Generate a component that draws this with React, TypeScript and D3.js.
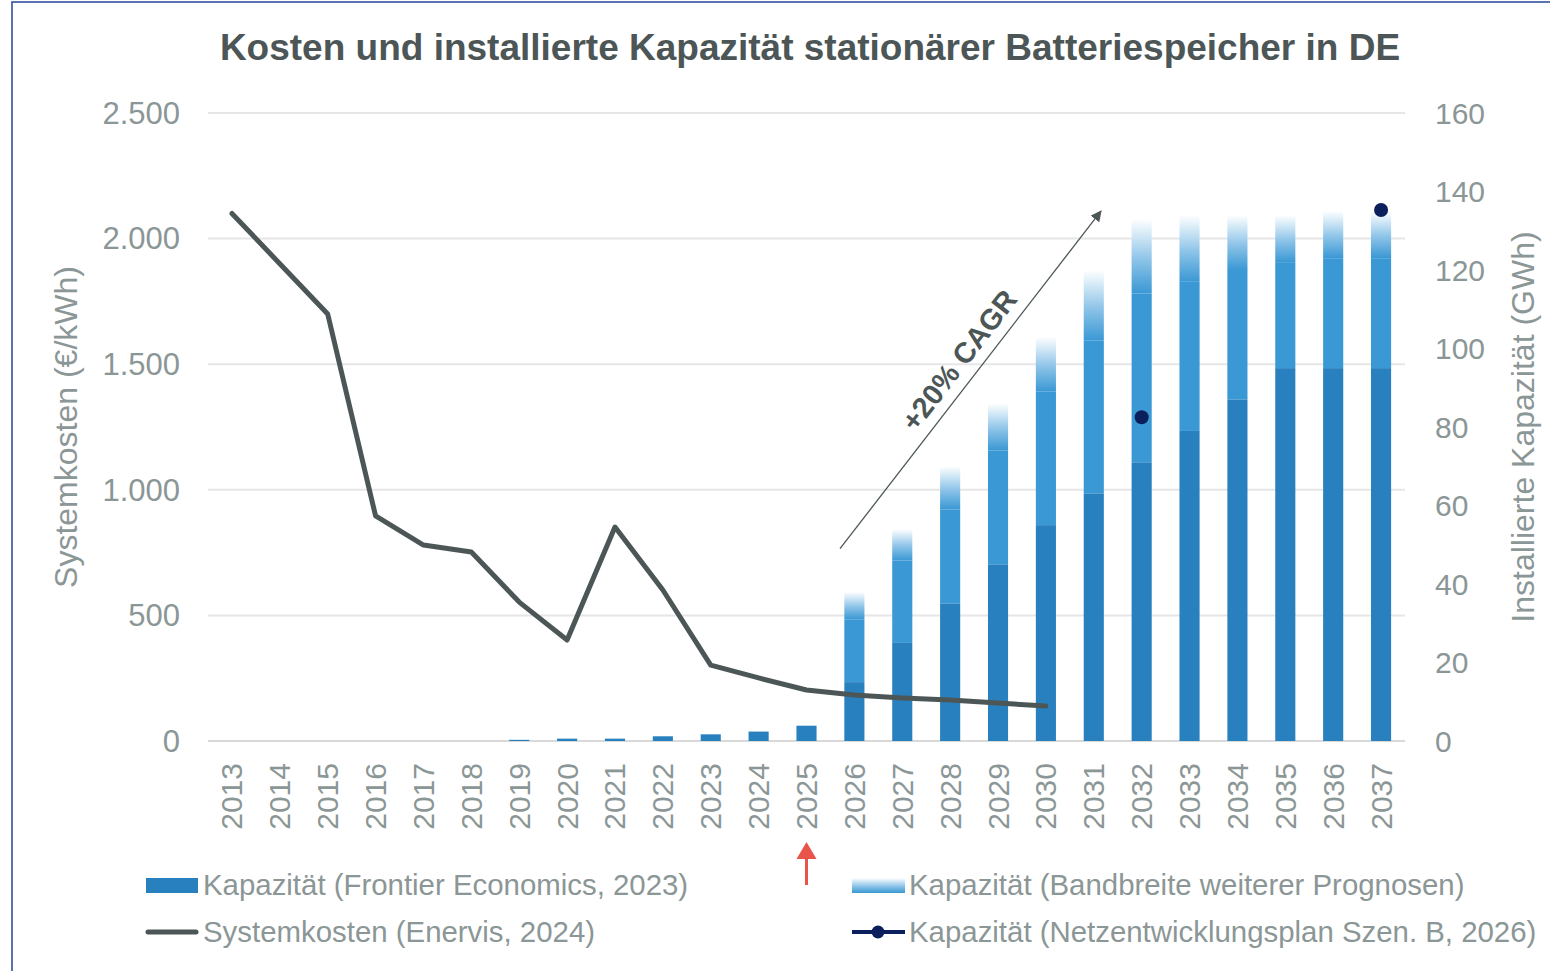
import * as d3 from "d3";

const years = ["2013", "2014", "2015", "2016", "2017", "2018", "2019", "2020", "2021", "2022", "2023", "2024", "2025",
  "2026", "2027", "2028", "2029", "2030", "2031", "2032", "2033", "2034", "2035", "2036", "2037"];

// Systemkosten (€/kWh), Enervis 2024
const systemkosten = [2100, 1900, 1700, 896, 780, 752, 553, 402, 852, 601, 302, 251, 203,
  183, 171, 163, 151, 139, null, null, null, null, null, null, null];

// Kapazität (GWh), Frontier Economics 2023
const frontier = [0, 0, 0, 0, 0, 0, 0.3, 0.6, 0.6, 1.2, 1.7, 2.4, 3.9,
  15, 25, 35, 45, 55, 63, 71, 79, 87, 95, 95, 95];

// Bandbreite weiterer Prognosen: solid part up to bandSolid, faded up to bandTop
const bandSolid = [null, null, null, null, null, null, null, null, null, null, null, null, null,
  31, 46, 59, 74, 89, 102, 114, 117, 120, 122, 123, 123];
const bandTop = [null, null, null, null, null, null, null, null, null, null, null, null, null,
  38, 54, 70, 86, 103, 120, 133, 134, 134, 134, 135, 135];

// Netzentwicklungsplan Szen. B, 2026
const nepYears = ["2032", "2037"];
const nepValues = [82.5, 135.3];

const leftTicks = [0, 500, 1000, 1500, 2000, 2500];
const rightTicks = [0, 20, 40, 60, 80, 100, 120, 140, 160];

const W = 1550;
const H = 971;
const margin = { top: 113, right: 145, bottom: 230, left: 208 };

const font = "'Liberation Sans', Arial, sans-serif";
const gray = "#8b9696";
const dark = "#4d5656";
const blueDark = "#2980be";
const blueLight = "#3a98d4";
const navy = "#0a1f5c";

const de = d3.formatLocale({ decimal: ",", thousands: ".", grouping: [3], currency: ["", "€"] });
const fmt = de.format(",.0f");

export default function App() {
  const x = d3.scaleBand()
    .domain(years)
    .range([margin.left, W - margin.right])
    .paddingInner(0.58)
    .paddingOuter(0.29);
  const yL = d3.scaleLinear().domain([0, 2500]).range([H - margin.bottom, margin.top]);
  const yR = d3.scaleLinear().domain([0, 160]).range([H - margin.bottom, margin.top]);
  const cx = (yr: string) => (x(yr) as number) + x.bandwidth() / 2;
  const bw = x.bandwidth();

  const lineData = years.map((yr, i) => ({ yr, v: systemkosten[i] })).filter(d => d.v != null);
  const line = d3.line<{ yr: string; v: number | null }>()
    .x(d => cx(d.yr))
    .y(d => yL(d.v as number));

  // CAGR arrow, anchored in data space (year position, GWh)
  const yearPos = d3.scaleLinear().domain([0, years.length - 1]).range([cx(years[0]), cx(years[years.length - 1])]);
  const a0 = [yearPos(12.7), yR(49)];
  const a1 = [yearPos(18.15), yR(135)];
  const ang = Math.atan2(a1[1] - a0[1], a1[0] - a0[0]) * 180 / Math.PI;
  const tM = 0.52;
  const tx = a0[0] + (a1[0] - a0[0]) * tM;
  const ty = a0[1] + (a1[1] - a0[1]) * tM;

  const redX = cx("2025");
  const midY = (yL(0) + yL(2500)) / 2;

  return (
    <svg width={W} height={H} style={{ position: "absolute", left: 0, top: 0, background: "#fff" }} fontFamily={font}>
      <defs>
        <linearGradient id="fade" x1="0" y1="1" x2="0" y2="0">
          <stop offset="0" stopColor={blueLight} stopOpacity={1} />
          <stop offset="0.45" stopColor="#8cc3e8" stopOpacity={1} />
          <stop offset="0.8" stopColor="#d6eaf7" stopOpacity={1} />
          <stop offset="1" stopColor="#ffffff" stopOpacity={1} />
        </linearGradient>
        <marker id="ah" viewBox="0 0 10 10" refX="9" refY="5" markerWidth="11" markerHeight="11" orient="auto" markerUnits="userSpaceOnUse">
          <path d="M0,0 L10,5 L0,10 z" fill={dark} />
        </marker>
      </defs>

      <rect x={12} y={2} width={W + 20} height={H + 20} fill="none" stroke="#3350a0" strokeWidth={1.6} />

      <text x={810} y={60} textAnchor="middle" fontSize={37} fontWeight="bold" fill={dark}>
        Kosten und installierte Kapazität stationärer Batteriespeicher in DE
      </text>

      {leftTicks.map(t => (
        <g key={"l" + t}>
          <line x1={margin.left} x2={W - margin.right} y1={yL(t)} y2={yL(t)} stroke={t === 0 ? "#d9d9d9" : "#e6e6e6"} strokeWidth={2} />
          <text x={180} y={yL(t)} dy="0.35em" textAnchor="end" fontSize={31} fill={gray}>{fmt(t)}</text>
        </g>
      ))}
      {rightTicks.map(t => (
        <text key={"r" + t} x={1435} y={yR(t)} dy="0.35em" textAnchor="start" fontSize={30} fill={gray}>{t}</text>
      ))}

      <text transform={`translate(77,${midY}) rotate(-90)`} textAnchor="middle" fontSize={32} fill={gray}>
        Systemkosten (€/kWh)
      </text>
      <text transform={`translate(1534,${midY}) rotate(-90)`} textAnchor="middle" fontSize={32} fill={gray}>
        Installierte Kapazität (GWh)
      </text>

      {years.map(yr => (
        <text key={"x" + yr} transform={`translate(${cx(yr)},${yL(0) + 22}) rotate(-90)`} dy="0.35em" textAnchor="end" fontSize={30} fill={gray}>
          {yr}
        </text>
      ))}

      {years.map((yr, i) => {
        const f = frontier[i];
        const s = bandSolid[i];
        const t = bandTop[i];
        return (
          <g key={"b" + yr}>
            {t != null && s != null && (
              <>
                <rect x={x(yr)} y={yR(t)} width={bw} height={yR(s) - yR(t)} fill="url(#fade)" />
                <rect x={x(yr)} y={yR(s)} width={bw} height={yR(f) - yR(s)} fill={blueLight} />
              </>
            )}
            {f > 0 && <rect x={x(yr)} y={yR(f)} width={bw} height={yR(0) - yR(f)} fill={blueDark} />}
          </g>
        );
      })}

      <path d={line(lineData) as string} fill="none" stroke={dark} strokeWidth={5} strokeLinejoin="round" strokeLinecap="round" />

      {nepYears.map((yr, i) => (
        <circle key={"n" + yr} cx={cx(yr)} cy={yR(nepValues[i])} r={7} fill={navy} />
      ))}

      <line x1={a0[0]} y1={a0[1]} x2={a1[0]} y2={a1[1]} stroke={dark} strokeWidth={1.3} markerEnd="url(#ah)" />
      <text transform={`translate(${tx},${ty}) rotate(${ang})`} dy={-11} textAnchor="middle" fontSize={29} fontWeight="bold" fill={dark}>
        +20% CAGR
      </text>

      <line x1={redX} x2={redX} y1={885} y2={855} stroke="#e8534a" strokeWidth={3} />
      <path d={`M${redX - 10},${859} L${redX},${842} L${redX + 10},${859} Z`} fill="#e8534a" />

      <g fontSize={29.4} fill={gray}>
        <rect x={146} y={878} width={52} height={15} fill={blueDark} />
        <text x={203} y={885} dy="0.35em">Kapazität (Frontier Economics, 2023)</text>

        <rect x={852} y={878} width={53} height={15} fill="url(#fade)" />
        <text x={909} y={885} dy="0.35em">Kapazität (Bandbreite weiterer Prognosen)</text>

        <line x1={148} x2={196} y1={932} y2={932} stroke={dark} strokeWidth={5} strokeLinecap="round" />
        <text x={203} y={932} dy="0.35em">Systemkosten (Enervis, 2024)</text>

        <line x1={852} x2={905} y1={932} y2={932} stroke={navy} strokeWidth={4} />
        <circle cx={878} cy={932} r={6.5} fill={navy} />
        <text x={909} y={932} dy="0.35em">Kapazität (Netzentwicklungsplan Szen. B, 2026)</text>
      </g>
    </svg>
  );
}
